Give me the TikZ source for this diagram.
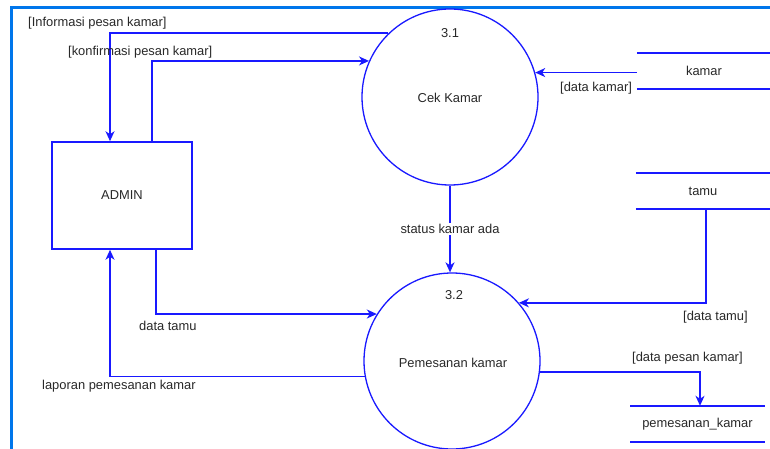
\documentclass[tikz,border=0pt]{standalone}
\usepackage{fontspec}
\setmainfont{Liberation Sans}
\usepackage{tikz}
\usetikzlibrary{arrows,arrows.meta,shapes,positioning}
\usepackage{xcolor}
\definecolor{dfdblue}{RGB}{25,25,255}
\definecolor{framblue}{RGB}{0,118,235}
\definecolor{txtgray}{RGB}{40,40,40}
\tikzstyle{flow} = [line width=1.5pt,-{Stealth[length=10pt,width=9pt,inset=3pt]},color=dfdblue]
\tikzstyle{proc} = [circle,draw=dfdblue,line width=1.3pt,minimum size=176pt,inner sep=0pt]
\tikzstyle{store} = [minimum width=134pt,minimum height=36pt,inner sep=0pt,text=txtgray]
\tikzstyle{lbl} = [anchor=west,inner sep=0pt,text=txtgray]

\begin{document}
\begin{tikzpicture}[x=1pt,y=-1pt,font=\fontsize{12.9}{14}\selectfont]
\useasboundingbox (0,0) rectangle (770,449);
% Frame
\draw[framblue, line width=3pt] (11,449) -- (11,8) -- (770,8);

% Entity and processes
\node[draw=dfdblue, line width=1.5pt, minimum width=140pt, minimum height=107pt, text=txtgray] (admin) at (122,195.5) {ADMIN};
\node[proc] (cek) at (450,97) {};
\node[proc] (pesan) at (452,361) {};
\node[text=txtgray] at (450,33) {3.1};
\node[text=txtgray] at (450,98) {Cek Kamar};
\node[text=txtgray] at (454,295) {3.2};
\node[text=txtgray] at (453,363) {Pemesanan kamar};

% Data stores
\node[store] (kamar) at (704,71) {kamar};
\node[store] (tamu) at (703,191) {tamu};
\node[store] (pk) at (697.5,424) {pemesanan\_kamar};
\foreach \s in {kamar,tamu,pk} {
    \draw[dfdblue, line width=1.5pt] (\s.north west) -- (\s.north east);
    \draw[dfdblue, line width=1.5pt] (\s.south west) -- (\s.south east);
}

% Flows
\draw[flow] (cek.134) -| ([xshift=-12pt]admin.north);
\draw[flow] ([xshift=30pt]admin.north) |- (cek.156);
\draw[flow] (kamar.west |- cek.16) -- (cek.16);
\draw[flow] (cek.south) -- node[fill=white, inner sep=1pt, text=txtgray] (sts) {status kamar ada} (cek.south |- pesan.north);
\draw[flow] ([xshift=3pt]tamu.south) |- (pesan.41);
\draw[flow] ([xshift=34pt]admin.south) |- (pesan.148);
\draw[flow] (pesan.190) -| ([xshift=-12pt]admin.south);
\draw[flow] (pesan.353) -| ([xshift=2.5pt]pk.north);

% Flow labels
\node[lbl] at (28,23) {[Informasi pesan kamar]};
\node[lbl] at (68,52) {[konfirmasi pesan kamar]};
\node[lbl] at (560,88) {[data kamar]};
\node[lbl] at (683,317) {[data tamu]};
\node[lbl] at (632,358) {[data pesan kamar]};
\node[lbl] at (139,326) {data tamu};
\node[lbl] at (42,386) {laporan pemesanan kamar};
\end{tikzpicture}
\end{document}
